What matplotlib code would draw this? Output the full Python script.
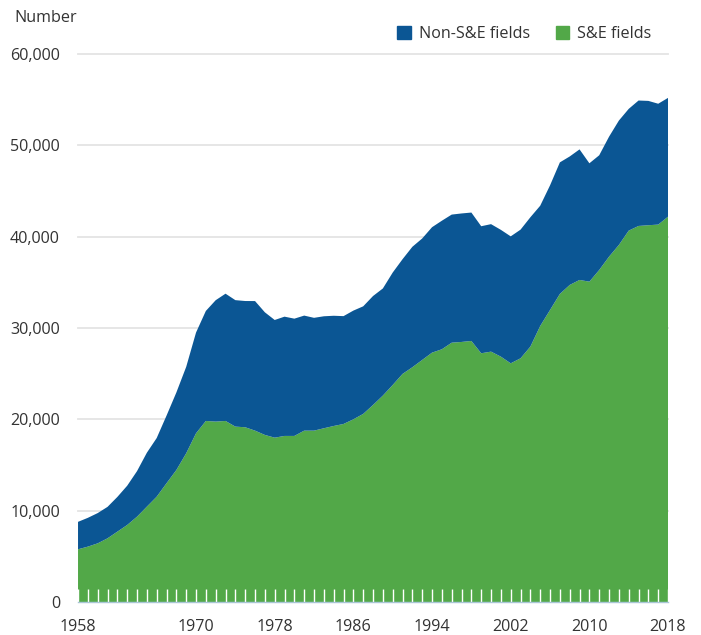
#!/usr/bin/env python3

import numpy as np
from matplotlib import pyplot as plt
from matplotlib.patches import Patch

plt.rcParams['font.family'] = ['Open Sans', 'DejaVu Sans']

years = list(range(1958, 2019))

# total doctorates (all fields)
total = [8773, 9213, 9733, 10413, 11500, 12728, 14325, 16340, 17949, 20403,
         22937, 25743, 29498, 31867, 33041, 33755, 33047, 32952, 32946, 31716,
         30875, 31239, 31020, 31356, 31111, 31281, 31337, 31297, 31902, 32370,
         33500, 34327, 36068, 37530, 38890, 39800, 41034, 41743, 42415, 42539,
         42638, 41140, 41368, 40744, 40031, 40766, 42123, 43385, 45617, 48132,
         48778, 49554, 48032, 48908, 50944, 52708, 53989, 54904, 54862, 54552,
         55195]

# S&E fields
se = [5770, 6060, 6420, 6970, 7700, 8430, 9340, 10440, 11530, 13000,
      14450, 16280, 18470, 19820, 19750, 19820, 19200, 19130, 18760, 18290,
      17990, 18180, 18180, 18760, 18760, 19020, 19270, 19490, 20000, 20590,
      21570, 22600, 23760, 24970, 25700, 26500, 27300, 27670, 28390, 28470,
      28580, 27230, 27410, 26860, 26130, 26680, 27960, 30220, 31970, 33730,
      34710, 35260, 35070, 36350, 37810, 39090, 40660, 41170, 41250, 41320,
      42190]

non_se = [t - s for t, s in zip(total, se)]

blue = '#0b5694'
green = '#52a848'
text_col = '#333333'
fs = 11.6

fig = plt.figure(figsize=(7.01, 6.35), dpi=100)
ax = fig.add_axes([0.1113, 0.052, 0.8417, 0.863])

ax.stackplot(years, se, non_se, colors=[green, blue], linewidth=0)

ax.set_xlim(1958, 2018)
ax.set_ylim(0, 60000)

yt = list(range(0, 60001, 10000))
ax.set_yticks(yt)
ax.set_yticklabels(['0'] + ['{:,}'.format(v) for v in yt[1:]])
ax.tick_params(axis='y', length=0, pad=13, labelsize=fs, labelcolor=text_col)
for v in yt[1:]:
    ax.axhline(v, color='#e4e4e4', lw=1.3, zorder=0.5, clip_on=False)

label_years = [1958, 1970, 1978, 1986, 1994, 2002, 2010, 2018]
ax.set_xticks(label_years)
ax.set_xticklabels([str(y) for y in label_years])
ax.set_xticks(years, minor=True)
ax.tick_params(axis='x', which='both', direction='in', length=9.5,
               width=1, color='white', labelsize=fs, labelcolor=text_col,
               pad=12)

for s in ['top', 'right', 'left']:
    ax.spines[s].set_visible(False)
ax.spines['bottom'].set_color('#a9c6d6')
ax.spines['bottom'].set_linewidth(1)
ax.spines['bottom'].set_zorder(3)

fig.text(14 / 701, 1 - 18 / 635, 'Number', fontsize=fs, color=text_col,
         ha='left', va='center')

handles = [Patch(color=blue, label='Non-S&E fields'),
           Patch(color=green, label='S&E fields')]
fig.legend(handles=handles, loc='center right', ncol=2, frameon=False,
           bbox_to_anchor=(666 / 701, 1 - 34 / 635), fontsize=fs,
           handlelength=0.85, handleheight=0.85, handletextpad=0.5,
           columnspacing=1.6, labelcolor=text_col)

plt.savefig('out.png', dpi=100)
